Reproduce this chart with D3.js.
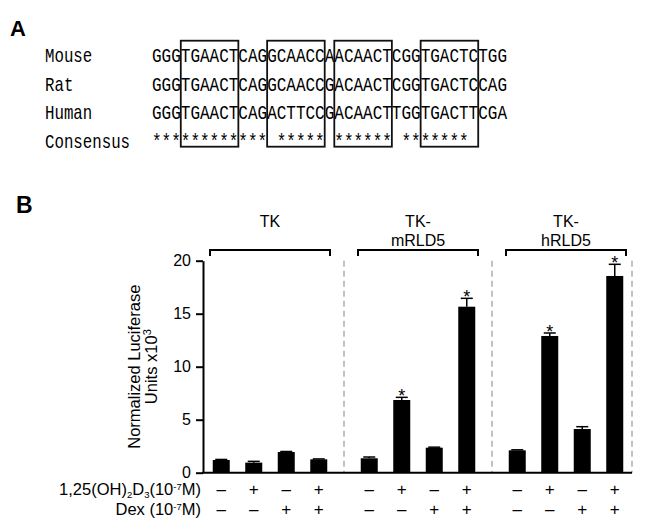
<!DOCTYPE html>
<html>
<head>
<meta charset="utf-8">
<script src="https://cdn.jsdelivr.net/npm/d3@7"></script>
<style>
  body { margin: 0; background: #fff; }
  svg { display: block; }
  text { font-family: Arial, "Liberation Sans", sans-serif; }
  .mono { font-family: "Courier New", "Liberation Mono", monospace; }
</style>
</head>
<body>
<script>
// ---- panel A data ----
const species = ["Mouse", "Rat", "Human", "Consensus"];
const sequences = [
  "GGGTGAACTCAGGCAACCAACAACTCGGTGACTCTGG",
  "GGGTGAACTCAGGCAACCGACAACTCGGTGACTCCAG",
  "GGGTGAACTCAGACTTCCGACAACTTGGTGACTTCGA",
  "************ ***** ****** *******"
];
// boxed half-sites, as [first char, last char + 1]
const boxes = [[3, 9], [12, 18], [19, 25], [28, 34]];

// ---- panel B data ----
const groups = [["TK"], ["TK-", "mRLD5"], ["TK-", "hRLD5"]];
const means = [
  [1.2, 0.95, 1.95, 1.26],
  [1.36, 6.86, 2.36, 15.66],
  [2.11, 12.9, 4.12, 18.56]
];
const errs = [
  [0.05, 0.12, 0.05, 0.04],
  [0.12, 0.25, 0.05, 0.79],
  [0.05, 0.28, 0.22, 1.1]
];
const signif = [
  [0, 0, 0, 0],
  [0, 1, 0, 1],
  [0, 1, 0, 1]
];
const vitD = ["–", "+", "–", "+"];
const dex = ["–", "–", "+", "+"];
const yTicks = [0, 5, 10, 15, 20];

const width = 650, height = 531;
const svg = d3.select("body").append("svg")
  .attr("width", width)
  .attr("height", height);

// ================= panel A =================
svg.append("text").attr("x", 10).attr("y", 36)
  .attr("font-size", 22).attr("font-weight", "bold").text("A");

const nChars = sequences[0].length;
const cx = d3.scaleLinear().domain([0, nChars]).range([152, 507]);
const charW = cx(1) - cx(0);
const rowY = d3.scaleLinear().domain([0, 1]).range([62.3, 90.8]);

const rows = svg.append("g");
rows.selectAll(".lab")
  .data(species)
  .join("text")
  .attr("class", "lab mono")
  .attr("x", 45)
  .attr("y", (d, i) => rowY(i))
  .attr("font-size", 21)
  .attr("textLength", d => d.length * 9.45)
  .attr("lengthAdjust", "spacingAndGlyphs")
  .text(d => d);

rows.selectAll(".seq")
  .data(sequences)
  .join("text")
  .attr("class", "seq mono")
  .attr("x", cx(0))
  .attr("y", (d, i) => rowY(i))
  .attr("font-size", 21)
  .attr("textLength", d => d.length * charW)
  .attr("lengthAdjust", "spacingAndGlyphs")
  .text(d => d);

svg.selectAll(".box")
  .data(boxes)
  .join("rect")
  .attr("class", "box")
  .attr("x", d => cx(d[0]))
  .attr("y", 40.7)
  .attr("width", d => cx(d[1]) - cx(d[0]))
  .attr("height", 106)
  .attr("fill", "none")
  .attr("stroke", "#111")
  .attr("stroke-width", 1.8);

// ================= panel B =================
svg.append("text").attr("x", 16).attr("y", 213)
  .attr("font-size", 23).attr("font-weight", "bold").text("B");

const y = d3.scaleLinear().domain([0, 20]).range([472.7, 260.7]);
const gx = d3.scaleBand().domain(d3.range(groups.length)).range([196, 640]);
const bx = d3.scalePoint().domain(d3.range(4)).range([-48.75, 48.75]);
const center = (g, i) => gx(g) + gx.bandwidth() / 2 + bx(i);
const xLeft = 203, xRight = 632;
const barW = 17;

// dashed separators
const sepX = [gx(1), gx(2), xRight];
svg.selectAll(".sep")
  .data(sepX)
  .join("line")
  .attr("x1", d => d).attr("x2", d => d)
  .attr("y1", y(20)).attr("y2", y(0))
  .attr("stroke", "#999")
  .attr("stroke-width", 1.2)
  .attr("stroke-dasharray", "6,4");

// bars
const flat = [];
means.forEach((arr, g) => arr.forEach((v, i) => flat.push({ g, i, v, e: errs[g][i], s: signif[g][i] })));

svg.selectAll(".bar")
  .data(flat)
  .join("rect")
  .attr("class", "bar")
  .attr("x", d => center(d.g, d.i) - barW / 2)
  .attr("y", d => y(d.v))
  .attr("width", barW)
  .attr("height", d => y(0) - y(d.v))
  .attr("fill", "#000");

// error bars
const eb = svg.selectAll(".err").data(flat).join("g").attr("class", "err")
  .attr("stroke", "#000").attr("stroke-width", 1.5);
eb.append("line")
  .attr("x1", d => center(d.g, d.i)).attr("x2", d => center(d.g, d.i))
  .attr("y1", d => y(d.v)).attr("y2", d => y(d.v + d.e));
eb.append("line")
  .attr("x1", d => center(d.g, d.i) - 6).attr("x2", d => center(d.g, d.i) + 6)
  .attr("y1", d => y(d.v + d.e)).attr("y2", d => y(d.v + d.e));

// asterisks
svg.selectAll(".star")
  .data(flat.filter(d => d.s))
  .join("text")
  .attr("x", d => center(d.g, d.i))
  .attr("y", d => y(d.v + d.e) + 5)
  .attr("text-anchor", "middle")
  .attr("font-size", 18)
  .text("*");

// y axis
const yAxis = svg.append("g")
  .attr("transform", `translate(${xLeft},0)`)
  .call(d3.axisLeft(y).tickValues(yTicks).tickSize(7).tickSizeOuter(0).tickPadding(5));
yAxis.select(".domain").attr("stroke-width", 2);
yAxis.selectAll(".tick line").attr("stroke-width", 2);
yAxis.selectAll(".tick text")
  .attr("font-family", "Arial, 'Liberation Sans', sans-serif")
  .attr("font-size", 16).attr("fill", "#000");

// x baseline
svg.append("line")
  .attr("x1", xLeft - 1).attr("x2", xRight)
  .attr("y1", y(0)).attr("y2", y(0))
  .attr("stroke", "#000").attr("stroke-width", 2);

// y label
const yl = svg.append("text")
  .attr("transform", `translate(140,${(y(0) + y(20)) / 2}) rotate(-90)`)
  .attr("text-anchor", "middle")
  .attr("font-size", 16.5);
yl.append("tspan").attr("x", 0).attr("y", 0).text("Normalized Luciferase");
yl.append("tspan").attr("x", 0).attr("y", 17).text("Units x10");
yl.append("tspan").attr("dy", -6).attr("font-size", 11).text("3");

// group brackets and labels
groups.forEach((lines, g) => {
  const c = gx(g) + gx.bandwidth() / 2;
  svg.append("path")
    .attr("d", `M${c - 60},256V250H${c + 60}V256`)
    .attr("fill", "none").attr("stroke", "#000").attr("stroke-width", 2);
  svg.append("text")
    .attr("text-anchor", "middle")
    .attr("font-size", 16)
    .selectAll("tspan")
    .data(lines)
    .join("tspan")
    .attr("x", c)
    .attr("y", (d, i) => 226.5 + i * 19)
    .text(d => d);
});

// treatment rows
const rowBase = [495, 515];
[vitD, dex].forEach((signs, r) => {
  groups.forEach((_, g) => {
    svg.selectAll(null)
      .data(signs)
      .join("text")
      .attr("x", (d, i) => center(g, i))
      .attr("y", rowBase[r])
      .attr("text-anchor", "middle")
      .attr("font-size", 17)
      .text(d => d);
  });
});

const r1 = svg.append("text").attr("x", 201).attr("y", rowBase[0])
  .attr("text-anchor", "end").attr("font-size", 16.5);
r1.append("tspan").text("1,25(OH)");
r1.append("tspan").attr("dy", 2.5).attr("font-size", 9.5).text("2");
r1.append("tspan").attr("dy", -2.5).text("D");
r1.append("tspan").attr("dy", 2.5).attr("font-size", 9.5).text("3");
r1.append("tspan").attr("dy", -2.5).text("(10");
r1.append("tspan").attr("dy", -5).attr("font-size", 9.5).text("-7");
r1.append("tspan").attr("dy", 5).text("M)");

const r2 = svg.append("text").attr("x", 201).attr("y", rowBase[1])
  .attr("text-anchor", "end").attr("font-size", 16.5);
r2.append("tspan").text("Dex (10");
r2.append("tspan").attr("dy", -5).attr("font-size", 9.5).text("-7");
r2.append("tspan").attr("dy", 5).text("M)");
</script>
</body>
</html>
